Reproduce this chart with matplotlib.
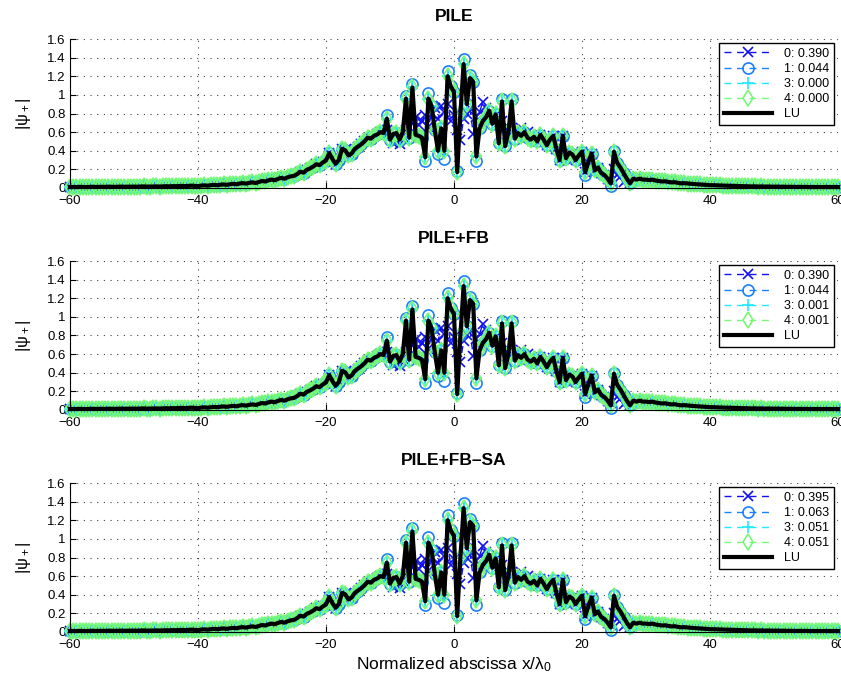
import numpy as np
import matplotlib
matplotlib.use("Agg")
import matplotlib.pyplot as plt
from matplotlib.ticker import FormatStrFormatter

plt.rcParams['font.family'] = ['Liberation Sans', 'DejaVu Sans']
plt.rcParams['mathtext.fontset'] = 'custom'
plt.rcParams['mathtext.rm'] = 'Liberation Sans'
plt.rcParams['mathtext.it'] = 'Liberation Sans:italic'

# Sample abscissa (normalized x / lambda0), one sample every 0.5
x_start, x_step = -60.0, 0.5

# Reference LU solution |psi+| (one row = 5 units)
lu = [
    0.010, 0.011, 0.010, 0.012, 0.011, 0.010, 0.012, 0.013, 0.011, 0.012,   # -60
    0.013, 0.012, 0.014, 0.013, 0.012, 0.014, 0.015, 0.013, 0.014, 0.016,   # -55
    0.015, 0.014, 0.016, 0.017, 0.015, 0.016, 0.018, 0.017, 0.016, 0.018,   # -50
    0.019, 0.018, 0.020, 0.019, 0.021, 0.023, 0.020, 0.022, 0.025, 0.023,   # -45
    0.020, 0.026, 0.028, 0.025, 0.030, 0.033, 0.030, 0.035, 0.038, 0.034,   # -40
    0.040, 0.044, 0.040, 0.048, 0.052, 0.047, 0.055, 0.060, 0.054, 0.065,   # -35
    0.075, 0.070, 0.082, 0.090, 0.084, 0.098, 0.108, 0.100, 0.115, 0.125,   # -30
    0.130, 0.150, 0.175, 0.165, 0.195, 0.210, 0.230, 0.255, 0.245, 0.275,   # -25
    0.295, 0.375, 0.310, 0.260, 0.300, 0.420, 0.405, 0.350, 0.370, 0.420,   # -20
    0.445, 0.470, 0.500, 0.540, 0.530, 0.560, 0.575, 0.600, 0.590, 0.745,   # -15
    0.520, 0.580, 0.590, 0.520, 0.600, 0.960, 0.540, 1.080, 0.570, 0.560,   # -10
    0.540, 0.330, 0.960, 0.880, 0.620, 0.400, 0.640, 0.400, 1.200, 1.090,   # -5
    1.030, 0.170, 0.800, 1.330, 0.900, 1.180, 1.140, 0.340, 0.640, 0.720,   # 0
    0.760, 0.830, 0.690, 0.790, 0.480, 0.930, 0.450, 0.600, 0.930, 0.530,   # 5
    0.590, 0.560, 0.600, 0.540, 0.520, 0.550, 0.500, 0.570, 0.520, 0.460,   # 10
    0.520, 0.560, 0.420, 0.300, 0.560, 0.320, 0.380, 0.360, 0.300, 0.350,   # 15
    0.390, 0.170, 0.280, 0.370, 0.190, 0.220, 0.160, 0.140, 0.100, 0.050,   # 20
    0.390, 0.270, 0.220, 0.160, 0.100, 0.050, 0.100, 0.090, 0.100, 0.090,   # 25
    0.090, 0.085, 0.090, 0.080, 0.075, 0.070, 0.072, 0.065, 0.060, 0.062,   # 30
    0.055, 0.050, 0.052, 0.048, 0.045, 0.042, 0.040, 0.038, 0.036, 0.033,   # 35
    0.030, 0.030, 0.028, 0.027, 0.026, 0.025, 0.024, 0.022, 0.021, 0.020,   # 40
    0.020, 0.019, 0.018, 0.017, 0.018, 0.016, 0.017, 0.015, 0.016, 0.015,   # 45
    0.014, 0.015, 0.013, 0.014, 0.012, 0.013, 0.012, 0.011, 0.012, 0.011,   # 50
    0.012, 0.010, 0.011, 0.010, 0.011, 0.010, 0.011, 0.010, 0.010, 0.011,   # 55
    0.010,                                                                  # 60
]

# Approximation 1 (circles): same as LU except where the circles stick out
approx1_dev = {
    -10.5: 0.78, -7.5: 0.99, -6.5: 1.12, -4.5: 0.29, -4.0: 1.02, -2.5: 0.37,
    -1.5: 0.31, -1.0: 1.26, 0.5: 0.18, 1.5: 1.38, 2.5: 1.21, 3.5: 0.29,
    7.5: 0.96, 9.0: 0.96, 20.5: 0.14, 24.5: 0.02, 25.0: 0.40,
}

# Approximation 0 (crosses): smoother curve in the centre, from x = -11 to 12
approx0_centre_start = -11.0
approx0_centre = [
    0.59, 0.62, 0.60, 0.48, 0.50, 0.47, 0.55, 0.62, 0.66, 0.70,
    0.76, 0.68, 0.72, 0.78, 0.66, 0.80, 0.86, 0.74, 0.88, 0.82,
    0.90, 0.72, 0.78, 0.62, 0.52, 0.74, 0.80, 0.86, 0.58, 0.76,
    0.82, 0.92, 0.86, 0.80, 0.74, 0.78, 0.70, 0.72, 0.64, 0.66,
    0.60, 0.62, 0.60, 0.64, 0.58, 0.60, 0.53,
]
approx0_dev = {24.5: 0.08, 25.0: 0.20, 25.5: 0.14, 26.0: 0.12, 26.5: 0.06, 27.0: 0.10}

titles = ["PILE", "PILE+FB", "PILE+FB\u2013SA"]
legend_labels = [
    ["0: 0.390", "1: 0.044", "3: 0.000", "4: 0.000", "LU"],
    ["0: 0.390", "1: 0.044", "3: 0.001", "4: 0.001", "LU"],
    ["0: 0.395", "1: 0.063", "3: 0.051", "4: 0.051", "LU"],
]


def idx(xv):
    return int(round((xv - x_start) / x_step))


x = x_start + x_step * np.arange(len(lu))
lu_arr = np.array(lu)

approx1 = lu_arr.copy()
for xv, yv in approx1_dev.items():
    approx1[idx(xv)] = yv

approx0 = lu_arr.copy()
i0 = idx(approx0_centre_start)
approx0[i0:i0 + len(approx0_centre)] = approx0_centre
for xv, yv in approx0_dev.items():
    approx0[idx(xv)] = yv

styles = [
    dict(color="#1010f0", marker="x", ms=6.5),
    dict(color="#1a80ff", marker="o", ms=8),
    dict(color="#20e8ff", marker="+", ms=8),
    dict(color="#78f878", marker="d", ms=8.5),
]

fig = plt.figure(figsize=(8.41, 6.77), dpi=100)
bottoms = [1 - 188 / 677, 1 - 410 / 677, 1 - 632 / 677]

for p in range(3):
    ax = fig.add_axes([70 / 841, bottoms[p], 768 / 841, 149 / 677])
    series = [approx0, approx1, lu_arr, lu_arr]
    for s, st in zip(series, styles):
        ax.plot(x, s, linestyle="--", dashes=(5, 4), lw=1.0, color=st["color"],
                marker=st["marker"], ms=st["ms"], mfc="none", mew=1.2, clip_on=False)
    ax.plot(x, lu_arr, color="black", lw=3.0, clip_on=False)

    ax.set_xlim(-60, 60)
    ax.set_ylim(0, 1.6)
    ax.set_xticks(np.arange(-60, 61, 20))
    ax.set_yticks(np.arange(0, 1.61, 0.2))
    ax.yaxis.set_major_formatter(FormatStrFormatter("%g"))
    ax.tick_params(direction="in", length=4, labelsize=9.5)
    ax.tick_params(axis="x", pad=5)
    ax.tick_params(axis="y", pad=3)
    ax.spines["top"].set_visible(False)
    ax.spines["right"].set_visible(False)
    ax.grid(True, linestyle=(0, (1, 5)), color="0.25", lw=0.8)
    ax.set_axisbelow(True)

    ax.set_title(titles[p], fontsize=12.5, fontweight="bold", pad=13)
    ax.set_ylabel(r"$|\mathrm{\psi}_+|$", fontsize=12, labelpad=10)

    leg = ax.legend(legend_labels[p], loc="upper right", fontsize=9,
                    handlelength=3.8, handletextpad=1.0, labelspacing=0.25,
                    borderaxespad=0.3, numpoints=1, fancybox=False,
                    framealpha=1, edgecolor="black")
    leg.get_frame().set_linewidth(1.0)

    if p == 2:
        ax.set_xlabel("Normalized abscissa " + r"$\mathrm{x/\lambda_0}$", fontsize=12.5, labelpad=3)

fig.savefig("out.png", dpi=100)
